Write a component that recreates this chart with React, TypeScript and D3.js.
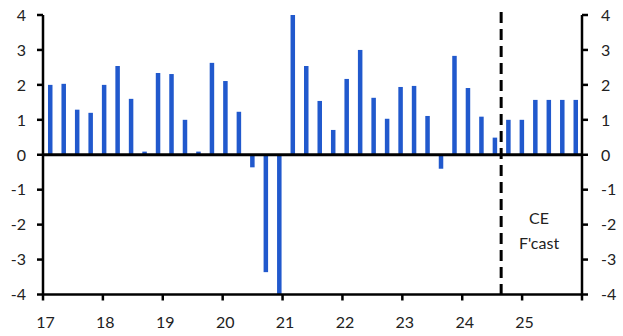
import React from "react";
import * as d3 from "d3";

const values: number[] = [
  2.0, 2.03, 1.29, 1.2, 2.0, 2.54, 1.6, 0.09, 2.34, 2.31, 1.0, 0.09, 2.63, 2.11, 1.23,
  -0.36, -3.36, -4.0, 4.0, 2.54, 1.54, 0.71, 2.17, 3.0, 1.63, 1.03, 1.94, 1.97, 1.11,
  -0.4, 2.83, 1.91, 1.09, 0.49, 1.0, 1.0, 1.57, 1.57, 1.57, 1.57,
];
const yTicks: number[] = [-4, -3, -2, -1, 0, 1, 2, 3, 4];
const xTicks: number[] = [17, 18, 19, 20, 21, 22, 23, 24, 25, 26];
const xTickLabels: string[] = ["17", "18", "19", "20", "21", "22", "23", "24", "25"];
const forecastStartIndex = 34;
const forecastLabel: string[] = ["CE", "F'cast"];

export default function App() {
  const W = 623, H = 336;
  const left = 43, right = 582, top = 15, bottom = 294.5;
  const x = d3.scaleBand<number>().domain(d3.range(values.length)).range([left, right]).paddingInner(0);
  const xYear = d3.scaleLinear().domain([17, 26]).range([left, right]);
  const y = d3.scaleLinear().domain([-4, 4]).range([bottom, top]);
  const bw = 4.5;
  const font = "Lato, 'Open Sans', sans-serif";
  const dashX = (x(forecastStartIndex) as number);
  const blue = "#2159cd";
  return (
    <svg width={W} height={H} style={{ position: "absolute", left: 0, top: 0 }}>
      {values.map((v, i) => {
        const cx = (x(i) as number) + x.bandwidth() / 2 + 0.5;
        const y0 = y(0), y1 = y(v);
        return (
          <rect key={i} x={cx - bw / 2} y={Math.min(y0, y1)} width={bw} height={Math.abs(y1 - y0)} fill={blue} />
        );
      })}
      {/* zero line */}
      <line x1={left} x2={right} y1={y(0)} y2={y(0)} stroke="#000" strokeWidth={3} />
      {/* bottom axis */}
      <line x1={left} x2={right} y1={bottom} y2={bottom} stroke="#000" strokeWidth={2.5} />
      {/* left & right axes */}
      <line x1={left} x2={left} y1={top} y2={bottom} stroke="#000" strokeWidth={2.5} />
      <line x1={right} x2={right} y1={top} y2={bottom} stroke="#000" strokeWidth={2.5} />
      {yTicks.map((t) => (
        <g key={t}>
          <line x1={left - 6} x2={left} y1={y(t)} y2={y(t)} stroke="#000" strokeWidth={2.5} />
          <line x1={right} x2={right + 6} y1={y(t)} y2={y(t)} stroke="#000" strokeWidth={2.5} />
          <text x={26} y={y(t)} dy="0.36em" textAnchor="end" fontFamily={font} fontSize={16} fill="#222">{t}</text>
          <text x={601} y={y(t)} dy="0.36em" textAnchor="start" fontFamily={font} fontSize={16} fill="#222">{t}</text>
        </g>
      ))}
      {xTicks.map((t) => (
        <line key={t} x1={xYear(t)} x2={xYear(t)} y1={bottom} y2={bottom + 6} stroke="#000" strokeWidth={2.5} />
      ))}
      {xTickLabels.map((l, i) => (
        <text key={l} x={xYear(xTicks[i]) + 2.5} y={328} textAnchor="middle" fontFamily={font} fontSize={16} fill="#222">{l}</text>
      ))}
      <line x1={dashX} x2={dashX} y1={12} y2={bottom} stroke="#000" strokeWidth={3} strokeDasharray="11 6" />
      {forecastLabel.map((l, i) => (
        <text key={l} x={539} y={224 + i * 25} textAnchor="middle" fontFamily={font} fontSize={16} fill="#222">{l}</text>
      ))}
    </svg>
  );
}
